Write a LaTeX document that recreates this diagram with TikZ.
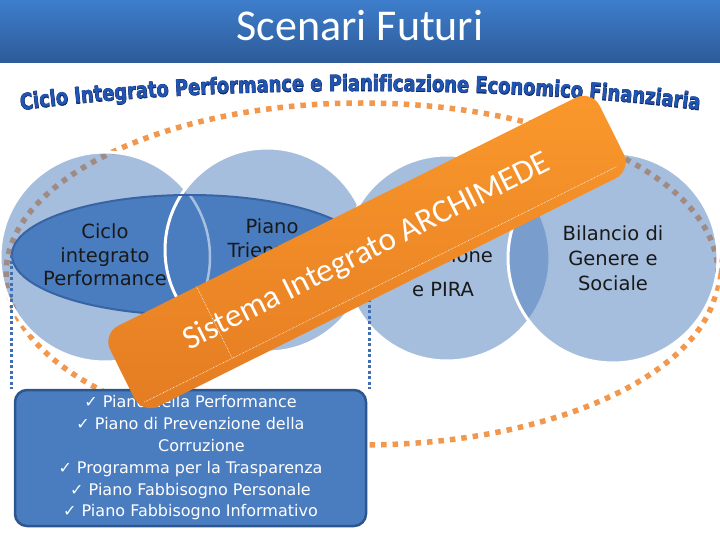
\documentclass[tikz,border=0pt]{standalone}
\usepackage{fontspec}
\setmainfont{DejaVu Sans}
\newfontfamily\titlefont{Carlito}
\newfontfamily\arcfont[FakeStretch=0.8]{DejaVu Sans}
\newfontfamily\arcfontedge[FakeStretch=0.8, FakeBold=3]{DejaVu Sans}
\usetikzlibrary{positioning, shapes.geometric, decorations.text}

\begin{document}
\begin{tikzpicture}[
    x=1pt, y=-1pt,
    disk/.style={circle, fill=cdisk, fill opacity=0.5, draw=white, line width=3pt, inner sep=0pt},
    circle_text/.style={font=\fontsize{19.5}{23.5}\selectfont, align=center, text=black!90},
    list_box/.style={rectangle, rounded corners=12pt, fill=clens, draw=cboxline, line width=2.5pt,
        minimum width=351pt, minimum height=136pt, inner sep=0pt,
        font=\fontsize{16}{21.8}\selectfont, align=center, text=white},
    band/.style={rectangle, rounded corners=18pt, top color=cband1, bottom color=cband2,
        minimum width=547pt, minimum height=90pt, inner sep=0pt,
        font=\titlefont\fontsize{33}{33}\selectfont, text=white},
    dots_orange/.style={draw=corange, line width=5.5pt, dash pattern=on 5.5pt off 6pt},
    dots_blue/.style={draw=cdotblue, line width=3pt, dash pattern=on 3pt off 2.5pt}
]

  % --- Color Definitions ---
  \definecolor{cbartop}{RGB}{62,126,204}
  \definecolor{cbarbot}{RGB}{45,90,152}
  \definecolor{carc}{RGB}{32,86,178}
  \definecolor{carcedge}{RGB}{14,36,96}
  \definecolor{corange}{RGB}{242,152,78}
  \definecolor{cdisk}{RGB}{77,125,187}
  \definecolor{cdiskline}{RGB}{168,192,224}
  \definecolor{clens}{RGB}{74,124,192}
  \definecolor{clensline}{RGB}{56,100,164}
  \definecolor{cdotblue}{RGB}{64,110,176}
  \definecolor{cband1}{RGB}{250,152,44}
  \definecolor{cband2}{RGB}{228,124,34}
  \definecolor{cboxline}{RGB}{46,86,142}

  \useasboundingbox (0,0) rectangle (720,540);

  % --- Title Bar ---
  \shade[top color=cbartop, bottom color=cbarbot] (0,0) rectangle (720,63);
  \node[font=\titlefont\fontsize{44}{44}\selectfont, text=white] (title) at (360,26) {Scenari Futuri};

  % --- Arc Heading (dark edge, then blue face) ---
  \path[decorate, decoration={text along path, text align=center, text color=carcedge,
      text={|\arcfontedge\bfseries\fontsize{22.3}{22.3}\selectfont|Ciclo Integrato Performance e Pianificazione Economico Finanziaria}}]
    (8,112) .. controls (200,84) and (520,84) .. (712,112);
  \path[decorate, decoration={text along path, text align=center, text color=carc,
      text={|\arcfont\bfseries\fontsize{22.3}{22.3}\selectfont|Ciclo Integrato Performance e Pianificazione Economico Finanziaria}}]
    (8,112) .. controls (200,84) and (520,84) .. (712,112);

  % --- Dotted Outer Ring ---
  \draw[dots_orange] (362,274) ellipse [x radius=356pt, y radius=171pt];

  % --- Discs ---
  \node[disk, minimum size=210pt] (d1) at (105,257) {};
  \node[disk, minimum size=204pt] (d2) at (267,250) {};
  \node[disk, minimum size=206pt] (d3) at (447,258) {};
  \node[disk, minimum size=210pt] (d4) at (613,258) {};

  % --- Performance Lens ---
  \node[ellipse, fill=clens, draw=clensline, line width=2pt, minimum width=356pt,
        minimum height=120pt, inner sep=0pt] (lens) at (190,255) {};
  \begin{scope}
    \clip (190,255) ellipse [x radius=177pt, y radius=59pt];
    \draw[cdiskline, line width=2.5pt] (d1.center) circle [radius=105pt];
    \draw[white, line width=3pt] (d2.center) circle [radius=102pt];
  \end{scope}

  % --- Disc Labels ---
  \node[circle_text] (t1) at (105,255) {Ciclo\\integrato\\Performance};
  \node[circle_text] (t2) at (272,238) {Piano\\Triennale};
  \node[circle_text, font=\fontsize{19.5}{34}\selectfont] (t3) at (443,255) {Bilancio di\\Previsione\\e PIRA};
  \node[circle_text, font=\fontsize{19.5}{25}\selectfont] (t4) at (613,258) {Bilancio di\\Genere e\\Sociale};

  % --- Plan List ---
  \node[list_box] (box) at (190.5,458) {%
    ✓ Piano della Performance\\
    ✓ Piano di Prevenzione della\\
    \hspace*{22pt}Corruzione\\
    ✓ Programma per la Trasparenza\\
    ✓ Piano Fabbisogno Personale\\
    ✓ Piano Fabbisogno Informativo};
  \draw[dots_blue] (lens.west) -- (lens.west |- box.north);
  \draw[dots_blue] (lens.east) -- (lens.east |- box.north);

  % --- Orange Band ---
  \node[band, rotate=26.5] (band) at (367,252) {Sistema Integrato ARCHIMEDE};
  \begin{scope}[shift={(band.center)}, rotate=26.5]
    \draw[white, densely dotted, line width=0.6pt] (-266,35) -- (262,35);
    \draw[white, densely dotted, line width=0.6pt] (-168,-45) -- (-168,35);
  \end{scope}

\end{tikzpicture}
\end{document}
